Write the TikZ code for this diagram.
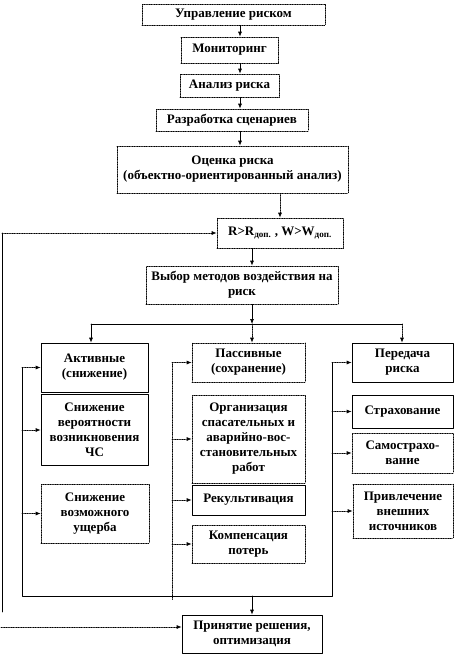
\documentclass[tikz,border=0pt]{standalone}
\usepackage{fontspec}
\setmainfont{Liberation Serif}
\usetikzlibrary{arrows.meta}
\tikzset{
  blok/.style={draw, densely dotted, fill=white, align=center, inner sep=1pt,
    font=\fontsize{13}{15}\selectfont\bfseries},
  blokS/.style={blok, solid},
  strel/.style={-{Latex[length=5pt, width=4pt]}}
}

\begin{document}
\begin{tikzpicture}[x=1pt,y=-1pt, line cap=round, line join=round, line width=0.7pt]
\useasboundingbox (0,0) rectangle (456,657);
% upper chain
\node[blok, minimum width=183pt, minimum height=21pt] (upr) at (233.5,14.5) {Управление риском};
\node[blok, minimum width=97pt, minimum height=26pt] (mon) at (229.5,50) {Мониторинг};
\node[blok, minimum width=99pt, minimum height=23pt] (an) at (229.5,85.5) {Анализ риска};
\node[blok, minimum width=152pt, minimum height=22pt] (raz) at (232,120) {Разработка сценариев};
\node[blok, minimum width=231pt, minimum height=47pt] (oc) at (232.5,169.5) {Оценка риска\\(объектно-ориентированный анализ)};
\node[blok, minimum width=126pt, minimum height=30pt] (R) at (280,233) {R>R\textsubscript{доп.}~, W>W\textsubscript{доп.}};
\node[blok, minimum width=192pt, minimum height=38pt] (vyb) at (242,285) {Выбор методов воздействия на\\риск};
% three columns
\node[blokS, minimum width=107pt, minimum height=49pt] (akt) at (94.5,367.5) {Активные\\(снижение)};
\node[blokS, minimum width=107pt, minimum height=71pt] (snv) at (94.5,430) {Снижение\\вероятности\\возникновения\\ЧС};
\node[blok, minimum width=108pt, minimum height=59pt] (snu) at (95,513.5) {Снижение\\возможного\\ущерба};
\node[blok, minimum width=113pt, minimum height=39pt] (pas) at (248.5,362.5) {Пассивные\\(сохранение)};
\node[blok, minimum width=113pt, minimum height=88pt] (org) at (248.5,439) {Организация\\спасательных и\\аварийно-вос-\\становительных\\работ};
\node[blokS, minimum width=113pt, minimum height=30pt] (rek) at (248.5,500) {Рекультивация};
\node[blok, minimum width=113pt, minimum height=38pt] (kom) at (248.5,544) {Компенсация\\потерь};
\node[blokS, minimum width=101pt, minimum height=39pt] (per) at (402.5,362.5) {Передача\\риска};
\node[blokS, minimum width=101pt, minimum height=33pt] (str) at (402.5,411.5) {Страхование};
\node[blok, minimum width=101pt, minimum height=40pt] (sam) at (402.5,453) {Самострахо-\\вание};
\node[blok, minimum width=100pt, minimum height=54pt] (pri) at (403,511) {Привлечение\\внешних\\источников};
\node[blokS, minimum width=140pt, minimum height=38pt] (prin) at (252,634) {Принятие решения,\\оптимизация};
% junctions
\coordinate (os) at (240,0);
\coordinate (rL) at (91,324);
\coordinate (rM) at (252,324);
\coordinate (rR) at (402,324);
\coordinate (nizL) at (22,596);
\coordinate (nizR) at (332,596);
\coordinate (sM) at (172,600);
\coordinate (obrV) at (2,233);
\coordinate (obrN) at (2,612);
\coordinate (vhod) at (1,627);
% arrows
\foreach \a/\b in {upr/mon, mon/an, an/raz, raz/oc}
  \draw[strel] (\a.south -| os) -- (\b.north -| os);
\draw[strel, densely dotted] (oc.south -| R.north) -- (R.north);
\draw[strel] (R.south -| rM) -- (vyb.north -| rM);
\draw[strel] (vyb.south -| rM) -- (rM);
\draw (rL) -- (rR);
\draw[strel] (rL) -- (akt.north -| rL);
\draw[strel, densely dotted] (rM) -- (pas.north -| rM);
\draw[strel, densely dotted] (rR) -- (per.north -| rR);
\draw (akt.west -| nizL) -- (nizL) -- (nizR) -- (per.west -| nizR);
\draw[densely dotted] (pas.west -| sM) -- (sM);
\foreach \n in {akt,snv,snu}
  \draw[strel, densely dotted] (\n.west -| nizL) -- (\n.west);
\foreach \n in {pas,org,rek,kom}
  \draw[strel, densely dotted] (\n.west -| sM) -- (\n.west);
\foreach \n in {per,str,sam,pri}
  \draw[strel, densely dotted] (\n.west -| nizR) -- (\n.west);
\draw[strel] (prin.north |- nizL) -- (prin.north);
\draw (obrN) -- (obrV);
\draw[strel, densely dotted] (obrV) -- (R.west);
\draw[strel, densely dotted] (vhod) -- (prin.west |- vhod);
\end{tikzpicture}
\end{document}
